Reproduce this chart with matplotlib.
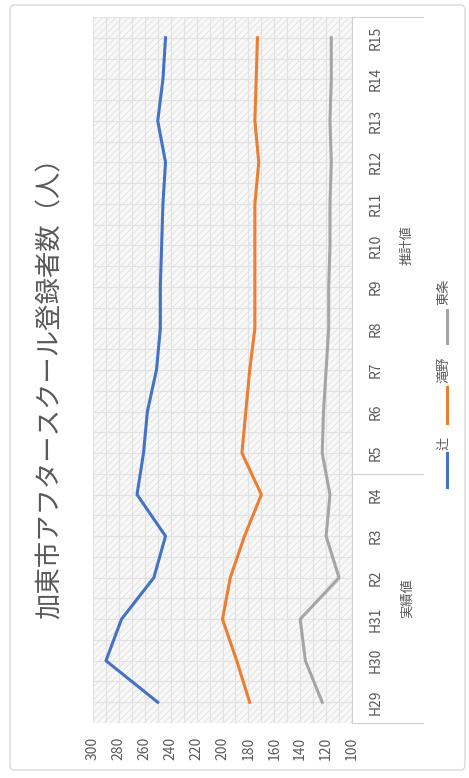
import numpy as np
import matplotlib.pyplot as plt
from matplotlib.patches import Rectangle, FancyBboxPatch
from matplotlib.lines import Line2D

plt.rcParams['font.family'] = ['Noto Sans CJK JP', 'DejaVu Sans']
plt.rcParams['hatch.linewidth'] = 0.5

# chart data (original chart is rotated 90 degrees counter-clockwise)
title = '加東市アフタースクール登録者数（人）'
years = ['H29', 'H30', 'H31', 'R2', 'R3', 'R4', 'R5', 'R6', 'R7', 'R8',
         'R9', 'R10', 'R11', 'R12', 'R13', 'R14', 'R15']
groups = ['実績値', '推計値']
group_sizes = [6, 11]
series_names = ['辻', '滝野', '東条']
tsuji = [250, 290, 278, 253, 244, 266, 261, 258, 251, 248, 248, 247, 246, 244, 250, 246, 244]
takino = [179, 189, 200, 194, 183, 170, 185, 182, 179, 175, 175, 175, 175, 172, 175, 174, 173]
tojo = [123, 136, 140, 110, 120, 117, 123, 122, 120, 118, 118, 117, 117, 116, 117, 116, 116]
value_ticks = [300, 280, 260, 240, 220, 200, 180, 160, 140, 120, 100]
colors = ['#4472C4', '#ED7D31', '#A5A5A5']

W, H = 469, 778
fig = plt.figure(figsize=(W / 100, H / 100), dpi=100)
frame = FancyBboxPatch((10 / W, 1 - 770 / H), 455 / W, 765 / H,
                       boxstyle='round,pad=0,rounding_size=0.008',
                       transform=fig.transFigure, fc='white',
                       ec='#d9d9d9', lw=1.0, zorder=-10)
fig.patches.append(frame)

ax = fig.add_axes([93 / W, 1 - 723 / H, 259 / W, 706 / H])
ax.set_zorder(1)
ax.set_facecolor('#f8f8f8')
ax.add_patch(Rectangle((0, 0), 1, 1, transform=ax.transAxes, fill=False,
                       hatch='/////', ec='#dcdcdc', lw=0, zorder=0))

pos = np.arange(len(years))
for vals, c in zip([tsuji, takino, tojo], colors):
    ax.plot(vals, pos, color=c, lw=2.2, zorder=3)

ax.set_xlim(300, 100)
ax.set_ylim(-0.5, len(years) - 0.5)
ax.set_xticks(value_ticks)
ax.set_xticks(np.arange(110, 300, 20), minor=True)
ax.set_xticklabels([str(v) for v in value_ticks], rotation=90, fontsize=10,
                   color='#595959')
ax.set_yticks(pos)
ax.set_yticks(np.arange(-0.5, len(years), 1.0), minor=True)
ax.yaxis.tick_right()
ax.set_yticklabels(years, rotation=90, fontsize=10, color='#595959',
                   va='center')
ax.tick_params(axis='both', which='both', length=0)
ax.tick_params(axis='x', pad=10)
ax.tick_params(axis='y', pad=12)
ax.grid(True, which='both', color='#e2e2e2', lw=0.8, zorder=1)
for s in ['top', 'left', 'bottom']:
    ax.spines[s].set_visible(False)
ax.spines['right'].set_color('#d0d0d0')

# multi-level category separators and group labels
x_ext = (423 - 93) / 259
bounds = np.cumsum([0] + group_sizes) - 0.5
for b in bounds:
    ax.add_line(Line2D([1, x_ext], [b, b], transform=ax.get_yaxis_transform(),
                       color='#d0d0d0', lw=0.8, clip_on=False))
for g, lo, hi in zip(groups, bounds[:-1], bounds[1:]):
    ax.text((407 - 93) / 259, (lo + hi) / 2, g, transform=ax.get_yaxis_transform(),
            rotation=90, ha='center', va='center', fontsize=9.5, color='#595959')

# legend (rotated)
leg_items = [(453, 487, 443), (387, 423, 370), (310, 343, 292)]
for name, c, (y0, y1, ty) in zip(series_names, colors, leg_items):
    fig.add_artist(Line2D([447 / W, 447 / W], [1 - y0 / H, 1 - y1 / H],
                          transform=fig.transFigure, color=c, lw=2.2))
    fig.text(444 / W, 1 - ty / H, name, rotation=90, ha='center', va='center',
             fontsize=9.5, color='#595959')

fig.text(50 / W, 1 - 382 / H, title, rotation=90, ha='center', va='center',
         fontsize=19, color='#595959')

fig.savefig('out.png', dpi=100)
